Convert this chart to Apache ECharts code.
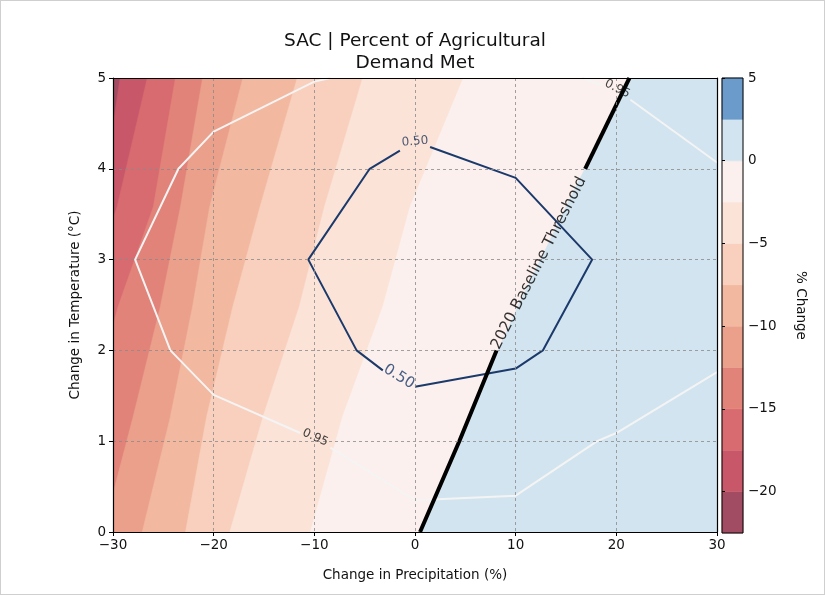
<!DOCTYPE html>
<html>
<head>
<meta charset="utf-8">
<script src="https://cdn.jsdelivr.net/npm/echarts@6/dist/echarts.min.js"></script>
<style>
html,body{margin:0;padding:0;background:#fff;}
#chart{position:absolute;left:0;top:0;width:825px;height:595px;}
#frame{position:absolute;left:0;top:0;width:825px;height:595px;box-sizing:border-box;border:1px solid #cfcfcf;pointer-events:none;}
</style>
</head>
<body>
<div id="chart"></div>
<div id="frame"></div>
<script>
// ---- data ----
const xTicks = [-30, -20, -10, 0, 10, 20, 30];
const yTicks = [0, 1, 2, 3, 4, 5];
const colorLevels = [-22.5, -20, -17.5, -15, -12.5, -10, -7.5, -5, -2.5, 0, 2.5, 5];
const colorbarTicks = [-20, -15, -10, -5, 0, 5];
const bandColors = ['#a24c63', '#c85769', '#d86b70', '#e2837a', '#eba08c', '#f2b8a0',
                    '#f8d0bd', '#fbe3d8', '#fbf0ed', '#d2e4ef', '#6a9bca'];
// temperature knots at which each filled-contour boundary's precipitation value was read
const bandKnotsY = [0, 1.27, 2.48, 3.58, 5];
// boundary x (precip %) for contour levels -20 ... 0
const bandEdgeX = [
  [-44, -40, -36, -31.2, -29.3],   // -20
  [-40, -36, -33, -29.6, -26.6],   // -17.5
  [-36, -32.5, -29.5, -26.0, -23.8], // -15
  [-31, -28.0, -25.3, -23.3, -21.1], // -12.5
  [-27.1, -24.3, -22.1, -20.4, -17.1], // -10
  [-22.8, -20.7, -18.1, -15.4, -11.7], // -7.5
  [-18.4, -15.1, -11.5, -9.0, -5.2],   // -5
  [-10.4, -7.2, -3.2, -0.5, 4.8],      // -2.5
  [0.5, 5.3, 10.2, 15.0, 21.3]         // 0
];
// probability contours
const p50SegA = [[1.5, 4.24], [10, 3.9], [17.6, 3.0], [12.7, 2.0], [10, 1.8], [0, 1.6]];
const p50SegB = [[-3.2, 1.78], [-5.8, 2.0], [-10.6, 3.0], [-4.5, 4.0], [-1.5, 4.2]];
const p95SegA = [[-8.4, 5.0], [-10, 4.96], [-20, 4.41], [-23.5, 4.0], [-27.8, 3.0], [-24.3, 2.0], [-20, 1.51], [-11.4, 1.09]];
const p95SegB = [[-8.4, 0.93], [0, 0.35], [10, 0.4], [18.1, 1.0], [20, 1.09], [30, 1.76]];
const p95SegC = [[16.6, 5.0], [18.6, 4.92]];
const p95SegD = [[21.4, 4.76], [30, 4.07]];
// 2020 baseline threshold line
const baseSegA = [[0.5, 0], [4.4, 1], [8.1, 2]];
const baseSegB = [[16.9, 4], [21.3, 5]];
// inline labels: [x, y, text, rotateDeg, size, color]
const inlineLabels = [
  [-9.9, 1.04, '0.95', -24, 12, '#111'],
  [20.1, 4.88, '0.95', -27, 12, '#111'],
  [0, 4.3, '0.50', 5, 12, '#1b2f55'],
  [-1.6, 1.71, '0.50', -32, 15, '#1b3a6b'],
  [12.3, 2.96, '2020 Baseline Threshold', 63, 15.5, '#000']
];

const FONT = 'DejaVu Sans';
const fmt = v => String(v).replace('-', '\u2212');

const chart = echarts.init(document.getElementById('chart'), null, {renderer: 'canvas'});

const bandData = [];
for (let i = 0; i <= bandEdgeX.length; i++) bandData.push({value: [0, 0], idx: i});

function lineSeries(data, color, width) {
  return {
    type: 'line', xAxisIndex: 0, yAxisIndex: 0, data: data, showSymbol: false, symbol: 'none',
    lineStyle: {color: color, width: width}, z: 4, silent: true, animation: false
  };
}

const option = {
  animation: false,
  backgroundColor: '#fff',
  title: {
    text: 'SAC | Percent of Agricultural\nDemand Met',
    left: 410, top: 25, textAlign: 'center',
    textStyle: {fontFamily: FONT, fontSize: 18.5, fontWeight: 'normal', color: '#111', lineHeight: 22}
  },
  grid: [
    {left: 113, right: 108, top: 78, bottom: 63},
    {left: 722, width: 21, top: 78, bottom: 62}
  ],
  xAxis: [
    {
      gridIndex: 0, type: 'value', min: -30, max: 30, interval: 10, z: 5,
      name: 'Change in Precipitation (%)', nameLocation: 'middle', nameGap: 36,
      nameTextStyle: {fontFamily: FONT, fontSize: 13.5, color: '#111'},
      axisLine: {show: true, onZero: false, lineStyle: {color: '#000', width: 1.2}},
      axisTick: {show: true, length: 4, lineStyle: {color: '#000'}},
      axisLabel: {fontFamily: FONT, fontSize: 13.5, color: '#111', margin: 6, formatter: fmt},
      splitLine: {show: true, lineStyle: {color: '#8a8a8a', width: 0.8, type: [3, 3]}}
    },
    {
      gridIndex: 0, type: 'value', min: -30, max: 30, position: 'top', z: 5,
      axisLine: {show: true, onZero: false, lineStyle: {color: '#000', width: 1.2}},
      axisTick: {show: false}, axisLabel: {show: false}, splitLine: {show: false}
    },
    {
      gridIndex: 1, type: 'value', min: 0, max: 1, show: false
    }
  ],
  yAxis: [
    {
      gridIndex: 0, type: 'value', min: 0, max: 5, interval: 1, z: 5,
      name: 'Change in Temperature (\u00b0C)', nameLocation: 'middle', nameGap: 31,
      nameTextStyle: {fontFamily: FONT, fontSize: 13.5, color: '#111'},
      axisLine: {show: true, onZero: false, lineStyle: {color: '#000', width: 1.2}},
      axisTick: {show: true, length: 4, lineStyle: {color: '#000'}},
      axisLabel: {fontFamily: FONT, fontSize: 13.5, color: '#111', margin: 7, formatter: fmt},
      splitLine: {show: true, lineStyle: {color: '#8a8a8a', width: 0.8, type: [3, 3]}}
    },
    {
      gridIndex: 0, type: 'value', min: 0, max: 5, position: 'right', z: 5,
      axisLine: {show: true, onZero: false, lineStyle: {color: '#000', width: 1.2}},
      axisTick: {show: false}, axisLabel: {show: false}, splitLine: {show: false}
    },
    {
      gridIndex: 1, type: 'value', min: -22.5, max: 5, position: 'right', z: 5,
      name: '% Change', nameLocation: 'middle', nameRotate: -90, nameGap: 50,
      nameTextStyle: {fontFamily: FONT, fontSize: 13.5, color: '#111'},
      axisLine: {show: false},
      axisTick: {show: true, length: 3, customValues: colorbarTicks, lineStyle: {color: '#000'}},
      axisLabel: {fontFamily: FONT, fontSize: 13.5, color: '#111', margin: 5, formatter: fmt, customValues: colorbarTicks},
      splitLine: {show: false}
    }
  ],
  series: [
    {
      type: 'custom', xAxisIndex: 0, yAxisIndex: 0, clip: true, z: 1, silent: true,
      data: bandData,
      renderItem: function (params, api) {
        const i = params.dataIndex;
        let pts;
        if (i === 0) {
          pts = [api.coord([-30, 0]), api.coord([30, 0]), api.coord([30, 5]), api.coord([-30, 5])];
        } else {
          const row = bandEdgeX[i - 1];
          pts = bandKnotsY.map((y, k) => api.coord([row[k], y]));
          pts.push(api.coord([90, 5]));
          pts.push(api.coord([90, 0]));
        }
        return {type: 'polygon', shape: {points: pts}, style: {fill: bandColors[i], stroke: bandColors[i], lineWidth: 0.5}};
      }
    },
    lineSeries(p95SegA, '#f4f4f4', 2),
    lineSeries(p95SegB, '#f4f4f4', 2),
    lineSeries(p95SegC, '#f4f4f4', 2),
    lineSeries(p95SegD, '#f4f4f4', 2),
    lineSeries(p50SegA, '#1b3a6b', 2),
    lineSeries(p50SegB, '#1b3a6b', 2),
    lineSeries(baseSegA, '#000', 4),
    lineSeries(baseSegB, '#000', 4),
    {
      type: 'scatter', xAxisIndex: 0, yAxisIndex: 0, symbolSize: 0, z: 6, silent: true,
      data: inlineLabels.map(l => ({
        value: [l[0], l[1]],
        label: {show: true, position: 'inside', formatter: l[2], rotate: l[3],
                fontSize: l[4], color: l[5], fontFamily: FONT}
      }))
    },
    {
      type: 'custom', xAxisIndex: 2, yAxisIndex: 2, z: 2, silent: true,
      data: colorLevels.slice(0, -1).map((lo, i) => [0, lo, colorLevels[i + 1]]),
      renderItem: function (params, api) {
        const a = api.coord([0, api.value(2)]);
        const b = api.coord([1, api.value(1)]);
        const i = params.dataIndex;
        const children = [{type: 'rect', shape: {x: a[0], y: a[1], width: b[0] - a[0], height: b[1] - a[1]},
                 style: {fill: bandColors[i], stroke: bandColors[i], lineWidth: 0.5}}];
        if (i === colorLevels.length - 2) {
          const t = api.coord([0, colorLevels[colorLevels.length - 1]]);
          const bt = api.coord([1, colorLevels[0]]);
          children.push({type: 'rect', z2: 10, shape: {x: t[0], y: t[1], width: bt[0] - t[0], height: bt[1] - t[1]},
                 style: {fill: 'none', stroke: '#000', lineWidth: 1}});
        }
        return {type: 'group', children: children};
      }
    }
  ]
};
chart.setOption(option);
</script>
</body>
</html>
